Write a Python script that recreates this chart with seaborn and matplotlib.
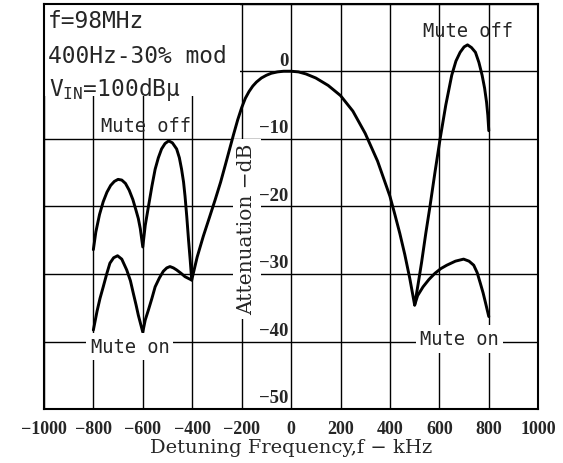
import numpy as np
import pandas as pd
import matplotlib
matplotlib.use("Agg")
import matplotlib.pyplot as plt
from matplotlib.patches import Rectangle
import seaborn as sns

# Values (kHz, dB)
mute_off_x = [-800, -790, -775, -760, -745, -730, -715, -700, -685, -670, -655, -640, -628, -618, -610, -600,
              -590, -577, -563, -550, -537, -524, -510, -495, -480, -463, -452, -443, -435, -429, -422, -415, -408, -402,
              -380, -355, -330, -307, -285, -267, -250, -233, -216, -200, -185, -170, -155, -140, -120, -100, -80, -55, -30, 0,
              30, 60, 100, 150, 200, 250, 300, 350, 400, 420, 440, 460, 480, 500,
              514, 528, 545, 562, 582, 603, 626, 650, 667, 684, 700, 714, 730, 746, 760, 773, 783, 791, 796, 800]
mute_off_y = [-26.4, -23.8, -21.2, -19.3, -17.9, -16.9, -16.3, -16.0, -16.1, -16.6, -17.6, -19.0, -20.5, -21.8, -23.3, -26.0,
              -22.8, -20.0, -17.0, -14.5, -12.8, -11.5, -10.7, -10.3, -10.6, -11.5, -12.8, -14.5, -16.4, -18.5, -21.5, -24.9, -28.0, -30.9,
              -27.5, -24.4, -21.6, -19.0, -16.4, -14.0, -11.7, -9.4, -7.2, -5.4, -4.0, -3.0, -2.2, -1.6, -1.0, -0.6, -0.3, -0.1, 0.0, 0.0,
              -0.1, -0.4, -1.0, -2.1, -3.6, -5.9, -9.2, -13.3, -18.5, -21.2, -24.0, -27.1, -30.6, -34.6,
              -31.5, -28.3, -24.0, -20.0, -15.0, -10.0, -5.0, -0.6, 1.5, 2.8, 3.6, 3.9, 3.5, 2.8, 1.3, -0.6, -2.5, -4.6, -6.5, -8.8]

mute_on_left_x = [-800, -785, -773, -760, -746, -733, -718, -702, -685, -665, -650, -638, -627, -618, -600,
                  -590, -577, -563, -550, -533, -517, -503, -490, -476, -463, -445, -429, -402]
mute_on_left_y = [-38.3, -35.5, -33.6, -31.9, -30.0, -28.4, -27.6, -27.3, -27.8, -29.4, -31.0, -32.9, -34.6, -36.1, -38.6,
                  -36.8, -35.3, -33.6, -31.9, -30.6, -29.6, -29.1, -28.9, -29.1, -29.4, -29.9, -30.4, -30.9]

mute_on_right_x = [500, 512, 534, 558, 582, 606, 630, 665, 698, 720, 739, 753, 766, 777, 787, 800]
mute_on_right_y = [-34.6, -33.2, -31.9, -30.8, -29.9, -29.2, -28.7, -28.1, -27.8, -28.1, -28.7, -29.8, -31.4, -32.8, -34.3, -36.3]

x_ticks = [-1000, -800, -600, -400, -200, 0, 200, 400, 600, 800, 1000]
y_ticks = [-50, -40, -30, -20, -10, 0, 10]
y_labels = [0, -10, -20, -30, -40, -50]

sns.set_style("white")
serif = ["DejaVu Serif"]
mono = ["DejaVu Sans Mono"]
tick_font = ["Liberation Serif"]

fig = plt.figure(figsize=(5.63, 4.64), dpi=100)
ax = fig.add_axes([0.078, 0.116, 0.878, 0.874])

for xs, ys in [(mute_off_x, mute_off_y), (mute_on_left_x, mute_on_left_y), (mute_on_right_x, mute_on_right_y)]:
    df = pd.DataFrame({"f": xs, "att": ys})
    sns.lineplot(data=df, x="f", y="att", sort=False, estimator=None, color="black",
                 linewidth=2.1, ax=ax, zorder=4)

ax.set_xlim(-1000, 1000)
ax.set_ylim(-50, 10)
ax.set_ylabel("")
ax.set_xticks(x_ticks)
ax.set_yticks(y_ticks)
ax.set_yticklabels([])
ax.set_xticklabels([f"{t:d}".replace("-", "\u2212") for t in x_ticks],
                   family=tick_font, fontsize=13, fontweight="bold")
ax.tick_params(axis="both", length=0)
ax.tick_params(axis="x", pad=8)
ax.grid(True, color="black", linewidth=1.0)
ax.set_axisbelow(True)
for s in ax.spines.values():
    s.set_color("black")
    s.set_linewidth(1.5)

# y values written just left of the 0 kHz line
for v in y_labels:
    ax.text(-10, v + 0.4, f"{v:d}".replace("-", "\u2212"), ha="right", va="bottom",
            family=tick_font, fontsize=13.5, fontweight="bold", zorder=5)

ax.set_xlabel("Detuning Frequency,f \u2212 kHz", family=serif, fontsize=14)
ax.xaxis.label.set_va("center")
ax.xaxis.set_label_coords(0.5, -0.094)

ax.text(-178, -23.3, "Attenuation \u2212dB", rotation=90, ha="center", va="center",
        family=serif, fontsize=14.5, zorder=3,
        bbox=dict(facecolor="white", edgecolor="none", pad=3))

# condition box, top left
ax.add_patch(Rectangle((-1000, -3.6), 795, 13.6, facecolor="white", edgecolor="none", zorder=1.5))
ax.text(-985, 7.5, "f=98MHz", ha="left", va="center", family=mono, fontsize=16.5, zorder=5)
ax.text(-985, 2.4, "400Hz-30% mod", ha="left", va="center", family=mono, fontsize=16.5, zorder=5)
ax.text(-980, -2.6, "V$_{\\mathregular{IN}}$=100dB\u03bc", ha="left", va="center", family=mono, fontsize=16.5, zorder=5)

ax.text(-586, -8.1, "Mute off", ha="center", va="center", family=mono, fontsize=13.5, zorder=5)
ax.text(715, 6.0, "Mute off", ha="center", va="center", family=mono, fontsize=13.5, zorder=5)
ax.text(-652, -40.7, "Mute on", ha="center", va="center", family=mono, fontsize=13.5, zorder=5,
        bbox=dict(facecolor="white", edgecolor="none", pad=3))
ax.text(681, -39.6, "Mute on", ha="center", va="center", family=mono, fontsize=13.5, zorder=5,
        bbox=dict(facecolor="white", edgecolor="none", pad=3))

fig.savefig("out.png", dpi=100)
